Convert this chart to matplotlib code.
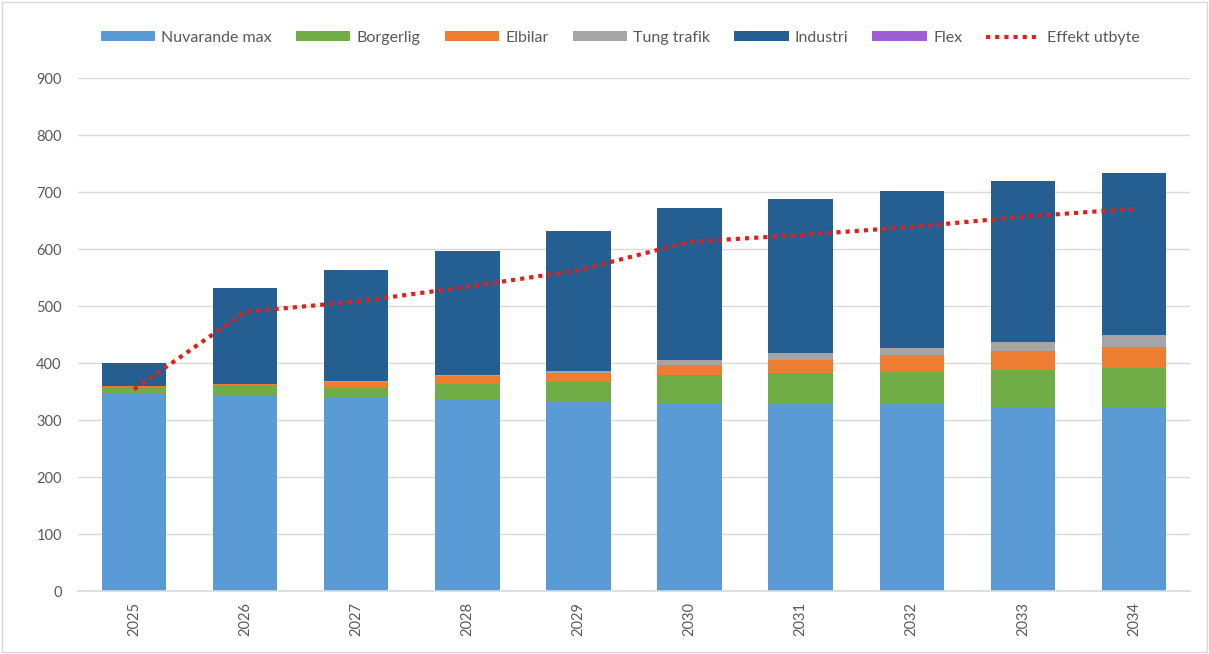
import matplotlib.pyplot as plt
import numpy as np
from matplotlib.patches import Rectangle

# Data
years = ["2025", "2026", "2027", "2028", "2029", "2030", "2031", "2032", "2033", "2034"]
nuvarande = [345, 343, 341, 337, 332, 330, 329, 328, 322, 322]
borgerlig = [13, 18, 16, 27, 35, 49, 53, 57, 66, 70]
elbilar = [1, 2, 10, 14, 15, 17, 24, 30, 34, 37]
tung_trafik = [0, 1, 1, 2, 4, 9, 11, 12, 15, 20]
industri = [41, 168, 196, 216, 246, 268, 271, 276, 282, 285]
flex = [0, 0, 0, 0, 0, 0, 0, 0, 0, 0]
effekt_utbyte = [354, 490, 508, 534, 563, 613, 625, 639, 657, 671]

series = [
    ("Nuvarande max", nuvarande, "#5B9BD5"),
    ("Borgerlig", borgerlig, "#70AD47"),
    ("Elbilar", elbilar, "#ED7D31"),
    ("Tung trafik", tung_trafik, "#A5A5A5"),
    ("Industri", industri, "#255E91"),
    ("Flex", flex, "#9E5FD6"),
]

plt.rcParams['font.family'] = ['Lato', 'DejaVu Sans']
txt_color = "#595959"
grid_color = "#D9D9D9"

fig = plt.figure(figsize=(12.09, 6.54), dpi=100)
ax = fig.add_axes([0.0649, 0.0963, 0.919, 0.784])

x = np.arange(len(years))
bottom = np.zeros(len(years))
handles = []
for name, vals, col in series:
    h = ax.bar(x, vals, width=0.58, bottom=bottom, color=col, label=name, zorder=2)
    handles.append(h)
    bottom += np.array(vals)

line, = ax.plot(x, effekt_utbyte, color="#E0201B", linestyle=(0, (1, 1.2)), linewidth=3,
                label="Effekt utbyte", zorder=3)
handles.append(line)

ax.set_xlim(-0.5, len(years) - 0.5)
ax.set_ylim(0, 900)
ax.set_yticks(range(0, 901, 100))
ax.set_xticks(x)
ax.set_xticklabels(years, rotation=90)
ax.tick_params(axis="both", colors=txt_color, labelsize=10.5, length=0)
ax.tick_params(axis="y", pad=12)
ax.tick_params(axis="x", pad=8)
ax.yaxis.grid(True, color=grid_color, linewidth=1, zorder=0)
ax.set_axisbelow(True)
for side in ["top", "right", "left"]:
    ax.spines[side].set_visible(False)
ax.spines["bottom"].set_color(grid_color)
ax.spines["bottom"].set_linewidth(1.2)

labels = [h.get_label() for h in handles]
leg = fig.legend(handles, labels, loc="center", bbox_to_anchor=(0.513, 0.942), ncol=7,
                 frameon=False, fontsize=11.5, handlelength=3.4, handleheight=0.6,
                 columnspacing=1.5, handletextpad=0.4)
for t in leg.get_texts():
    t.set_color(txt_color)

# thin frame around the chart
fig.patches.append(Rectangle((0.002, 0.003), 0.996, 0.994, transform=fig.transFigure,
                             fill=False, edgecolor=grid_color, linewidth=1))

fig.savefig("out.png", dpi=100)
